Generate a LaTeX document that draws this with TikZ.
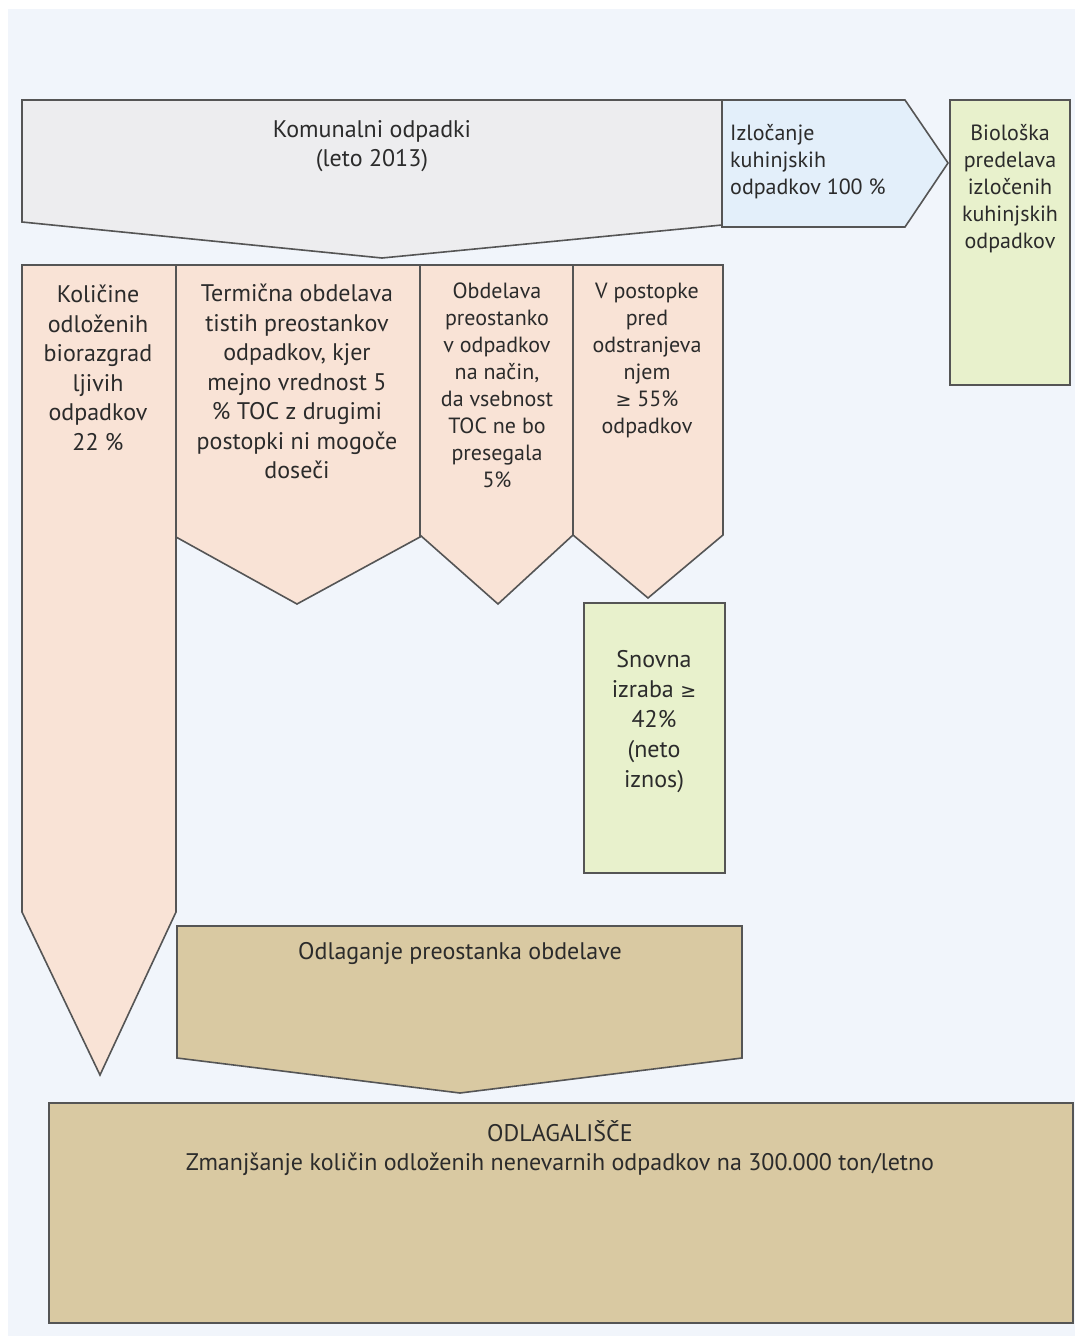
\documentclass[tikz,border=0pt]{standalone}
\usepackage{fontspec}
\setmainfont{PT Sans}
\newfontfamily\symfont{DejaVu Sans}
\newcommand{\gesym}{{\symfont\fontsize{19}{27}\selectfont ≥}}
\definecolor{bgc}{HTML}{F1F5FB}
\definecolor{grayf}{HTML}{EDEDEF}
\definecolor{bluef}{HTML}{E3EFFA}
\definecolor{greenf}{HTML}{E8F1CC}
\definecolor{peachf}{HTML}{F9E3D6}
\definecolor{tanf}{HTML}{D9C9A2}
\definecolor{edgec}{HTML}{555555}
\definecolor{txt}{HTML}{2B2B2B}
\tikzset{
  shapebox/.style={draw=edgec, line width=1.6pt, line join=miter},
  lbl/.style={text=txt, font=\fontsize{24}{29.5}\selectfont, align=center, inner sep=0pt},
  lblsm/.style={text=txt, font=\fontsize{22}{27}\selectfont, align=center, inner sep=0pt},
  lblsn/.style={text=txt, font=\fontsize{24}{30}\selectfont, align=center, inner sep=0pt},
}
\begin{document}
\begin{tikzpicture}[x=1pt,y=-1pt]
\useasboundingbox (0,0) rectangle (1075,1336);
\fill[white] (0,0) rectangle (1075,1336);
\fill[bgc] (8,9) rectangle (1075,1336);
% top gray pentagon
\filldraw[shapebox, fill=grayf] (22,100) -- (722,100) -- (722,225) -- (382,258) -- (22,222) -- cycle;
% blue arrow
\filldraw[shapebox, fill=bluef] (722,100) -- (905,100) -- (948,163) -- (905,227) -- (722,227) -- cycle;
% right green box
\filldraw[shapebox, fill=greenf] (950,100) rectangle (1070,385);
% peach columns
\filldraw[shapebox, fill=peachf] (22,265) -- (176,265) -- (176,912) -- (100,1075) -- (22,912) -- cycle;
\filldraw[shapebox, fill=peachf] (176,265) -- (420,265) -- (420,537) -- (297,604) -- (176,537) -- cycle;
\filldraw[shapebox, fill=peachf] (420,265) -- (573,265) -- (573,535) -- (498,604) -- (420,535) -- cycle;
\filldraw[shapebox, fill=peachf] (573,265) -- (723,265) -- (723,535) -- (648,598) -- (573,535) -- cycle;
% Snovna green box
\filldraw[shapebox, fill=greenf] (584,603) rectangle (725,873);
% Odlaganje tan
\filldraw[shapebox, fill=tanf] (177,926) -- (742,926) -- (742,1058) -- (460,1093) -- (177,1058) -- cycle;
% ODLAGALISCE
\filldraw[shapebox, fill=tanf] (49,1103) rectangle (1073,1323);

% texts
\node[lbl, anchor=north] (kom) at (372,120) {Komunalni odpadki\\(leto 2013)};
\node[lblsm, anchor=north west, align=left] (izl) at (730,124) {Izločanje\\kuhinjskih\\odpadkov 100~\%};
\node[lblsm, anchor=north] (bio) at (1010,124) {Biološka\\predelava\\izločenih\\kuhinjskih\\odpadkov};
\node[lbl, anchor=north] (kol) at (98,285) {Količine\\odloženih\\biorazgrad\\ljivih\\odpadkov\\22~\%};
\node[lbl, anchor=north] (ter) at (297,284) {Termična obdelava\\tistih preostankov\\odpadkov, kjer\\mejno vrednost 5\\\%~TOC z drugimi\\postopki ni mogoče\\doseči};
\node[lblsm, anchor=north] (obd) at (497,283) {Obdelava\\preostanko\\v odpadkov\\na način,\\da vsebnost\\TOC ne bo\\presegala\\5\%};
\node[lblsm, anchor=north] (vpo) at (647,283) {V postopke\\pred\\odstranjeva\\njem\\\gesym~55\%\\odpadkov};
\node[lblsn, anchor=north] (sno) at (654,650) {Snovna\\izraba \gesym\\42\%\\(neto\\iznos)};
\node[lbl, anchor=north] (odl) at (460,942) {Odlaganje preostanka obdelave};
\node[lbl, anchor=north] (dep) at (560,1120) {ODLAGALIŠČE\\Zmanjšanje količin odloženih nenevarnih odpadkov na 300.000 ton/letno};
\end{tikzpicture}
\end{document}
